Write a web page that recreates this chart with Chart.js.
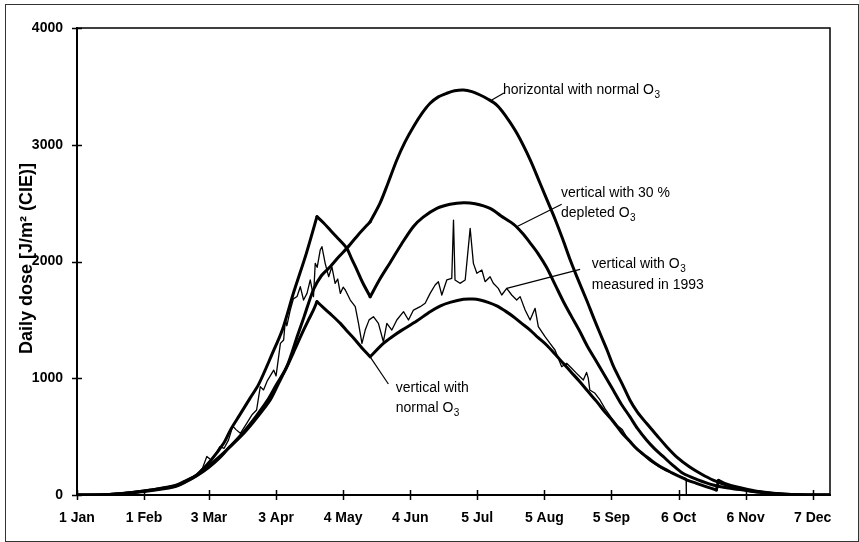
<!DOCTYPE html>
<html>
<head>
<meta charset="utf-8">
<script src="https://cdn.jsdelivr.net/npm/chart.js@4.4.1/dist/chart.umd.min.js"></script>
<style>
  html, body { margin: 0; padding: 0; background: #fff; }
  #wrap { width: 859px; height: 542px; }
</style>
</head>
<body>
<div id="wrap"><canvas id="doseChart"></canvas></div>
<script>
// x = days after 1 January, y = daily dose in J/m² (CIE)
const tickDays = [0, 31, 61, 92, 123, 154, 185, 216, 247, 278, 309, 340];
const tickLabels = ["1 Jan", "1 Feb", "3 Mar", "3 Apr", "4 May", "4 Jun",
  "5 Jul", "5 Aug", "5 Sep", "6 Oct", "6 Nov", "7 Dec"];
const doseTicks = [0, 1000, 2000, 3000, 4000];

// horizontal surface, normal ozone
const horizDays = [0, 15, 31, 45, 50, 55, 60, 66, 71, 77,
  83, 88, 92, 97, 102, 105, 109.3, 113, 117, 121,
  124.7, 130, 135.5, 140, 143.5, 147.8, 151.5, 155.5, 159.5, 163.2,
  167, 170.9, 174.5, 178.6, 182.5, 186.3, 190, 194, 198, 203.3,
  209.5, 214, 217.9, 221, 224.5, 228, 231, 235.5, 238.5, 241.7,
  245, 248, 252, 255.5, 259, 263.2, 268, 272.5, 277.5, 283,
  288.5, 294, 301, 309, 315, 322, 330, 338, 348];
const horizDose = [0, 5, 35, 75, 115, 165, 235, 330, 420, 540,
  680, 810, 940, 1100, 1370, 1530, 1760, 1880, 1955, 2040,
  2113, 2230, 2341, 2498, 2660, 2869, 3020, 3154, 3270, 3355,
  3410, 3441, 3462, 3469, 3455, 3426, 3390, 3340, 3250, 3098,
  2869, 2670, 2498, 2360, 2190, 2010, 1870, 1670, 1530, 1385,
  1240, 1099, 950, 814, 710, 614, 510, 414, 320, 242,
  180, 128, 80, 43, 25, 10, 3, 0, 0];
const horizBreaks = [135.5];

// vertical surface, 30 % depleted ozone
const depletedDays = [0, 15, 31, 45, 50, 55.5, 62, 68, 71, 75,
  80, 84, 90, 95, 100, 106, 110.9, 114, 117, 121,
  124.7, 127, 129.4, 132, 135.5, 140, 144.7, 150, 155.5, 160,
  166.3, 172.4, 178.6, 184, 190.9, 196, 201.7, 206, 209.4, 213,
  217, 221, 224.7, 228.5, 232.4, 236, 240.2, 244, 247.8, 251.5,
  255.5, 259, 263.2, 267, 271, 275, 280, 287, 294, 301,
  309, 315, 322, 330, 338, 348];
const depletedDose = [0, 5, 35, 80, 120, 175, 300, 450, 560, 680,
  830, 950, 1200, 1420, 1728, 2070, 2384, 2330, 2270, 2190,
  2113, 2020, 1927, 1820, 1698, 1850, 1990, 2150, 2300, 2380,
  2455, 2490, 2504, 2495, 2455, 2390, 2320, 2240, 2160, 2070,
  1950, 1800, 1660, 1530, 1400, 1270, 1140, 1020, 899, 780,
  671, 570, 471, 395, 328, 260, 186, 130, 86, 60,
  40, 25, 12, 4, 0, 0];
const depletedBreaks = [110.9, 135.5];

// vertical surface, normal ozone
const vertDays = [0, 15, 31, 45, 50, 55, 60.8, 66, 70, 77,
  83, 89.3, 93, 97, 100.5, 104, 107, 109.3, 110.9, 114,
  117, 121.7, 125, 128, 131.7, 135.5, 141.6, 146, 150, 157,
  163.2, 168, 172.4, 178.6, 183, 186.3, 190, 194, 198, 201.7,
  205.5, 209.4, 213, 217, 221, 224.7, 228.5, 232.4, 236, 240.2,
  244, 247.8, 251.5, 255.5, 259, 263.2, 267, 271, 275, 278.6,
  282, 286.3, 291, 295.5, 296.5, 300, 305, 310, 316, 323,
  330, 338, 348];
const vertDose = [0, 4, 30, 70, 110, 160, 235, 320, 400, 528,
  660, 814, 950, 1099, 1240, 1385, 1500, 1585, 1656, 1603,
  1553, 1470, 1400, 1340, 1260, 1185, 1299, 1360, 1410, 1490,
  1570, 1620, 1650, 1676, 1678, 1670, 1650, 1620, 1575, 1527,
  1470, 1413, 1350, 1285, 1205, 1128, 1050, 970, 890, 800,
  710, 630, 540, 460, 390, 328, 275, 228, 190, 157,
  128, 100, 70, 43, 125, 95, 68, 48, 28, 12,
  4, 0, 0];
const vertBreaks = [110.9, 135.5, 295.5, 296.5];

// vertical surface, ozone measured in 1993
const measDays = [0, 10, 20, 31, 40, 48, 55, 58, 60, 62,
  64, 66, 68, 70, 72, 73.5, 75.5, 78, 81, 83,
  84.7, 86.2, 88, 90.9, 92, 94, 95.5, 96.3, 97, 98.5,
  100, 101.7, 103.2, 104.7, 106.3, 107.8, 109.3, 110.1, 111, 112.4,
  113.2, 114.7, 116.3, 117.8, 119.3, 120.5, 121.7, 123, 124, 126.3,
  128.6, 130.1, 131.7, 133.2, 135, 137, 139.3, 141.6, 143.2, 145.5,
  147.8, 150.9, 153.2, 155.5, 158.6, 160.9, 163.2, 165.5, 167, 168.6,
  170.9, 173.2, 174, 174.7, 177, 179.4, 181.7, 183.2, 184.8, 187.1,
  188.6, 190.9, 192.4, 194.7, 196.3, 198.6, 200.9, 203.2, 204.8, 207.1,
  209.4, 211.7, 213.2, 216.3, 218.6, 220.9, 224, 226.3, 228.6, 230.9,
  234, 235.5, 236.3, 237, 239.4, 241.7, 244, 247.8, 250, 252,
  255.5, 260, 265, 270, 275, 281.5, 281.6];
const measDose = [0, 2, 8, 30, 55, 100, 170, 230, 330, 300,
  350, 414, 400, 470, 590, 560, 528, 600, 690, 728,
  928, 900, 980, 1070, 1020, 1299, 1328, 1499, 1450, 1580,
  1680, 1700, 1784, 1670, 1727, 1842, 1700, 1984, 1950, 2098,
  2127, 1984, 1870, 1955, 1813, 1850, 1727, 1780, 1756, 1670,
  1613, 1470, 1299, 1413, 1500, 1527, 1470, 1313, 1470, 1413,
  1499, 1570, 1499, 1584, 1613, 1642, 1727, 1799, 1827, 1713,
  1842, 1856, 2355, 1842, 1813, 1842, 2284, 1984, 1899, 1927,
  1827, 1870, 1813, 1770, 1713, 1770, 1713, 1670, 1699, 1585,
  1499, 1599, 1442, 1356, 1299, 1242, 1099, 1128, 1085, 1042,
  985, 1050, 999, 899, 871, 814, 740, 640, 590, 560,
  450, 370, 290, 230, 185, 140, 0];

// curve labels: text position and leader line, in data units
const curveNotes = [
  { lines: ["horizontal with normal O_3"], day: 196.9, dose: [3435],
    leader: [[191.7, 3383], [197.3, 3443]] },
  { lines: ["vertical with 30 %", "depleted O_3"], day: 223.7, dose: [2555, 2384],
    leader: [[224.0, 2490], [203.2, 2298]] },
  { lines: ["vertical with O_3", "measured in 1993"], day: 237.9, dose: [1942, 1764],
    leader: [[232.5, 1933], [198.6, 1770]] },
  { lines: ["vertical with", "normal O_3"], day: 147.3, dose: [880, 708],
    leader: [[135.4, 1185], [143.9, 951]] },
];

const FONT = "'Liberation Sans', Arial, Helvetica, sans-serif";
Chart.defaults.font.family = FONT;
Chart.defaults.color = "#000";

const toPoints = (days, vals) => days.map((d, i) => ({ x: d, y: vals[i] }));

// cut a curve at its kinks so each smooth stretch gets its own spline
function pieces(days, vals, breaks) {
  const pts = toPoints(days, vals);
  const out = [];
  let cur = [];
  pts.forEach((p) => {
    cur.push(p);
    if (breaks.includes(p.x)) {
      out.push(cur);
      cur = [p];
    }
  });
  if (cur.length > 1) out.push(cur);
  return out;
}

const line = (data, width, tension) => ({
  data,
  borderColor: "#000",
  borderWidth: width,
  pointRadius: 0,
  tension,
  fill: false,
  borderJoinStyle: "round",
  borderCapStyle: "round",
});

const modelCurves = [
  pieces(horizDays, horizDose, horizBreaks),
  pieces(depletedDays, depletedDose, depletedBreaks),
  pieces(vertDays, vertDose, vertBreaks),
].flat().map((seg) => line(seg, 3, 0.3));

// text with "_x" written as a subscript
function drawRich(ctx, x, y, text) {
  const normal = "14px " + FONT;
  const small = "10px " + FONT;
  let cx = x;
  text.split("_").forEach((part, i) => {
    if (i > 0) {
      ctx.font = small;
      ctx.fillText(part[0], cx + 0.5, y + 4);
      cx += ctx.measureText(part[0]).width + 0.5;
      part = part.slice(1);
    }
    ctx.font = normal;
    ctx.fillText(part, cx, y);
    cx += ctx.measureText(part).width;
  });
}

const decorations = {
  id: "decorations",
  beforeDraw(chart) {
    const { ctx, width, height } = chart;
    ctx.save();
    ctx.fillStyle = "#fff";
    ctx.fillRect(0, 0, width, height);
    ctx.restore();
  },
  afterDraw(chart) {
    const { ctx, chartArea: a, scales: { x, y } } = chart;
    ctx.save();
    ctx.strokeStyle = "#000";
    ctx.fillStyle = "#000";

    // top and right sides of the plot box
    ctx.lineWidth = 1.5;
    ctx.beginPath();
    ctx.moveTo(a.left, a.top);
    ctx.lineTo(a.right, a.top);
    ctx.lineTo(a.right, a.bottom + 1);
    ctx.stroke();

    // tick marks cross the axes
    ctx.beginPath();
    y.ticks.forEach((t) => {
      const py = Math.round(y.getPixelForValue(t.value)) + 0.5;
      ctx.moveTo(a.left - 5, py);
      ctx.lineTo(a.left + 5, py);
    });
    x.ticks.forEach((t) => {
      const px = Math.round(x.getPixelForValue(t.value)) + 0.5;
      ctx.moveTo(px, a.bottom - 5);
      ctx.lineTo(px, a.bottom + 5);
    });
    ctx.stroke();

    // curve labels with leader lines
    ctx.lineWidth = 1.2;
    ctx.textAlign = "left";
    ctx.textBaseline = "alphabetic";
    curveNotes.forEach((n) => {
      ctx.beginPath();
      ctx.moveTo(x.getPixelForValue(n.leader[0][0]), y.getPixelForValue(n.leader[0][1]));
      ctx.lineTo(x.getPixelForValue(n.leader[1][0]), y.getPixelForValue(n.leader[1][1]));
      ctx.stroke();
      n.lines.forEach((txt, i) => {
        drawRich(ctx, x.getPixelForValue(n.day), y.getPixelForValue(n.dose[i]), txt);
      });
    });

    // y axis title
    ctx.save();
    ctx.translate(27, (a.top + a.bottom) / 2 - 3);
    ctx.rotate(-Math.PI / 2);
    ctx.textAlign = "center";
    ctx.textBaseline = "middle";
    ctx.font = "bold 18px " + FONT;
    ctx.fillText("Daily dose [J/m² (CIE)]", 0, 0);
    ctx.restore();

    // outer frame
    ctx.strokeStyle = "#333";
    ctx.lineWidth = 1;
    ctx.strokeRect(5.5, 4.5, chart.width - 6, chart.height - 5);
    ctx.restore();
  },
};

new Chart(document.getElementById("doseChart"), {
  type: "line",
  data: {
    datasets: [
      ...modelCurves,
      line(toPoints(measDays, measDose), 1.3, 0),
    ],
  },
  options: {
    responsive: true,
    maintainAspectRatio: false,
    animation: false,
    events: [],
    layout: { padding: { top: 28, right: 29, left: 0, bottom: 0 } },
    plugins: {
      legend: { display: false },
      tooltip: { enabled: false },
    },
    scales: {
      x: {
        type: "linear",
        min: 0,
        max: 348,
        afterBuildTicks: (scale) => {
          scale.ticks = tickDays.map((v) => ({ value: v }));
        },
        afterFit: (scale) => { scale.height = 47; },
        grid: { display: false, drawTicks: false, tickLength: 0 },
        border: { display: true, color: "#000", width: 2 },
        ticks: {
          autoSkip: false,
          maxRotation: 0,
          padding: 15,
          font: { size: 14, weight: "bold" },
          callback: (v, i) => tickLabels[i],
        },
      },
      y: {
        min: 0,
        max: 4000,
        afterBuildTicks: (scale) => {
          scale.ticks = doseTicks.map((v) => ({ value: v }));
        },
        afterFit: (scale) => { scale.width = 77; },
        grid: { display: false, drawTicks: false, tickLength: 0 },
        border: { display: true, color: "#000", width: 2 },
        ticks: {
          padding: 14,
          font: { size: 14, weight: "bold" },
          callback: (v) => String(v),
        },
      },
    },
  },
  plugins: [decorations],
});
</script>
</body>
</html>
